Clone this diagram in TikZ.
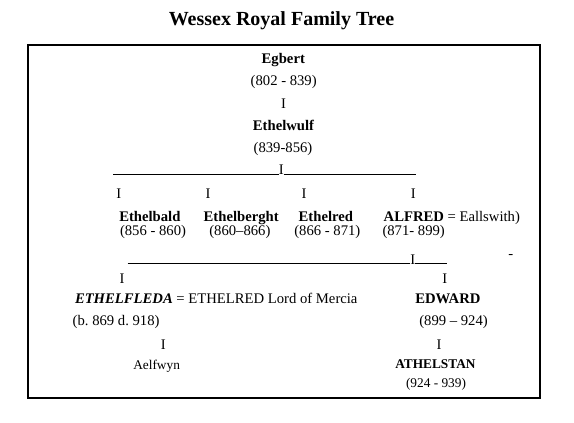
\documentclass[tikz,border=0pt]{standalone}
\usepackage{fontspec}
\setmainfont{Liberation Serif}
\frenchspacing
\newcommand\fnorm{\fontsize{14.67bp}{17bp}\selectfont}
\newcommand\fsmall{\fontsize{13.33bp}{15bp}\selectfont}
\tikzset{
  txt/.style={inner sep=0pt, outer sep=0pt, anchor=base west, font=\fnorm},
  txtc/.style={txt, anchor=base},
  bold/.style={font=\fnorm\bfseries},
  sm/.style={font=\fsmall},
  smbold/.style={font=\fsmall\bfseries},
  rule/.style={line width=0.9bp},
  frame/.style={draw, line width=2bp, inner sep=0pt, minimum width=512.3bp, minimum height=353bp}
}
\begin{document}
\begin{tikzpicture}[x=1bp,y=-1bp]
\useasboundingbox (0,0) rectangle (574,422);
\node[txtc, font=\fontsize{20bp}{24bp}\selectfont\bfseries] (title) at (281.5,25) {Wessex Royal Family Tree};
\node[frame] (box) at (283.85,221.2) {};
% top
\node[txtc, bold] (egbert) at (283.3,63) {Egbert};
\node[txtc] (egbertd) at (283.7,85.5) {(802 - 839)};
\node[txtc] (bar0) at (283.5,108) {I};
\node[txtc, bold] (ethelwulf) at (283.5,130) {Ethelwulf};
\node[txtc] (ethelwulfd) at (283,152) {(839-856)};
% first rule
\node[txtc] (bar1) at (281.3,174.5) {I};
\coordinate (u1s) at (113.3,174);
\coordinate (u1e) at (416,174);
\draw[rule] (u1s) -- (u1s -| bar1.west);
\draw[rule] (bar1.east |- u1s) -- (u1e);
% row of I
\node[txtc] (i1a) at (118.7,198) {I};
\node[txtc] (i1b) at (208,198) {I};
\node[txtc] (i1c) at (304,198) {I};
\node[txtc] (i1d) at (413.3,198) {I};
% children
\node[txt, bold] (ethelbald) at (119.3,221) {Ethelbald};
\node[txt, bold] (ethelberght) at (203.7,221) {Ethelberght};
\node[txt, bold] (ethelred) at (298.7,221) {Ethelred};
\node[txt] (alfred) at (383.7,221) {\textbf{ALFRED} = Eallswith)};
\node[txt] (ethelbaldd) at (120,235.5) {(856 - 860)};
\node[txt] (ethelberghtd) at (209.3,235.5) {(860–866)};
\node[txt] (ethelredd) at (294.3,235.5) {(866 - 871)};
\node[txt] (alfredd) at (382.5,235.5) {(871- 899)};
% second rule
\node[txtc] (bar2) at (412.8,264) {I};
\coordinate (u2s) at (127.7,263.5);
\coordinate (u2e) at (447,263.5);
\draw[rule] (u2s) -- (u2s -| bar2.west);
\draw[rule] (bar2.east |- u2s) -- (u2e);
\node[txtc] (dash) at (510.7,258) {-};
\node[txtc] (i2a) at (122,283) {I};
\node[txtc] (i2b) at (444.7,283) {I};
% grandchildren
\node[txt] (ethelfleda) at (75,303.7) {\textbf{\textit{ETHELFLEDA}} = ETHELRED Lord of Mercia};
\node[txt, bold] (edward) at (415.3,303.7) {EDWARD};
\node[txt] (ethelfledad) at (72.7,325) {(b. 869 d. 918)};
\node[txt] (edwardd) at (419.3,325) {(899 – 924)};
\node[txtc] (i3a) at (163.3,349) {I};
\node[txtc] (i3b) at (439,349) {I};
\node[txt, sm] (aelfwyn) at (133.3,369) {Aelfwyn};
\node[txt, smbold] (athelstan) at (395.3,368.7) {ATHELSTAN};
\node[txt, sm] (athelstand) at (406,387.5) {(924 - 939)};
\end{tikzpicture}
\end{document}
